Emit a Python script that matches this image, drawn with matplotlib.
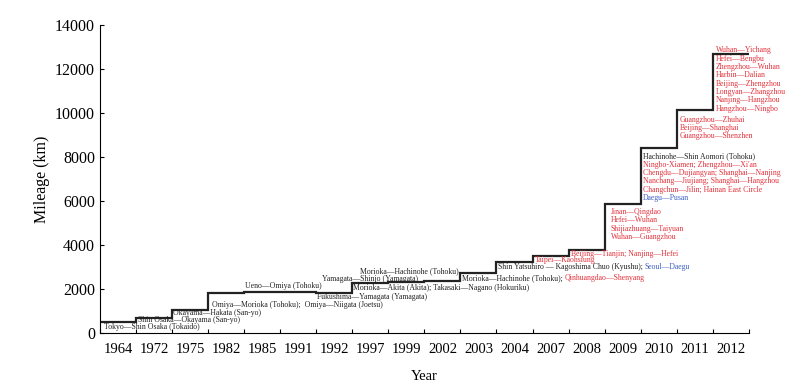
import matplotlib
matplotlib.use("Agg")
import matplotlib.pyplot as plt
import numpy as np

plt.rcParams['font.family'] = ['Liberation Serif', 'DejaVu Serif']

# opening years (one bin each) and cumulative mileage in km
years = ["1964", "1972", "1975", "1982", "1985", "1991", "1992", "1997", "1999",
         "2002", "2003", "2004", "2007", "2008", "2009", "2010", "2011", "2012"]
mileage = [515, 676, 1069, 1830, 1860, 1870, 1810, 2270, 2320,
           2380, 2730, 3230, 3500, 3800, 5880, 8420, 10130, 12700]

RED = "#e2313b"
BLUE = "#3b5fc4"
BLACK = "#222222"

# single-colour labels: (text, colour, x in bins, y in km)
labels = [
    ("Tokyo—Shin Osaka (Tokaido)", BLACK, 0.11, 270),
    ("Shin Osaka—Okayama (San-yo)", BLACK, 1.05, 590),
    ("Okayama—Hakata (San-yo)", BLACK, 2.02, 910),
    ("Omiya—Morioka (Tohoku);  Omiya—Niigata (Joetsu)", BLACK, 3.1, 1290),
    ("Ueno—Omiya (Tohoku)", BLACK, 4.02, 2140),
    ("Fukushima—Yamagata (Yamagata)", BLACK, 6.02, 1660),
    ("Yamagata—Shinjo (Yamagata)", BLACK, 6.16, 2470),
    ("Morioka—Hachinohe (Tohoku)", BLACK, 7.2, 2830),
    ("Morioka—Akita (Akita); Takasaki—Nagano (Hokuriku)", BLACK, 7.02, 2060),
    ("Taipei—Kaohsiung", RED, 12.06, 3310),
    ("Beijing—Tianjin; Nanjing—Hefei", RED, 13.06, 3590),
]

# two-colour labels: (first, colour, second, colour, x, y)
pair_labels = [
    ("Morioka—Hachinohe (Tohoku); ", BLACK, "Qinhuangdao—Shenyang", RED, 10.04, 2500),
    ("Shin Yatsuhiro — Kagoshima Chuo (Kyushu); ", BLACK, "Seoul—Daegu", BLUE, 11.04, 3000),
]

# stacked lists: (lines, colours, x, y of first line)
block_2009 = ["Jinan—Qingdao", "Hefei—Wuhan", "Shijiazhuang—Taiyuan", "Wuhan—Guangzhou"]
block_2010 = ["Hachinohe—Shin Aomori (Tohoku)", "Ningbo-Xiamen; Zhengzhou—Xi'an",
              "Chengdu—Dujiangyan; Shanghai—Nanjing", "Nanchang—Jiujiang; Shanghai—Hangzhou",
              "Changchun—Jilin; Hainan East Circle", "Daegu—Pusan"]
colors_2010 = [BLACK, RED, RED, RED, RED, BLUE]
block_2011 = ["Guangzhou—Zhuhai", "Beijing—Shanghai", "Guangzhou—Shenzhen"]
block_2012 = ["Wuhan—Yichang", "Hefei—Bengbu", "Zhengzhou—Wuhan", "Harbin—Dalian",
              "Beijing—Zhengzhou", "Longyan—Zhangzhou", "Nanjing—Hangzhou", "Hangzhou—Ningbo"]
blocks = [
    (block_2009, [RED] * len(block_2009), 14.17, 5500),
    (block_2010, colors_2010, 15.06, 8040),
    (block_2011, [RED] * len(block_2011), 16.08, 9700),
    (block_2012, [RED] * len(block_2012), 17.08, 12860),
]

fs = 5.6
fig = plt.figure(figsize=(8, 3.86), dpi=100)
ax = fig.add_axes([0.125, 0.137, 0.811, 0.798])

edges = np.arange(len(years) + 1)
ax.stairs(mileage, edges, baseline=None, color=BLACK, lw=1.6)

for txt, c, x, y in labels:
    ax.text(x, y, txt, color=c, fontsize=fs, ha='left', va='center')

for t1, c1, t2, c2, x, y in pair_labels:
    a = ax.text(x, y, t1, color=c1, fontsize=fs, ha='left', va='center')
    ax.annotate(t2, xy=(1, 0), xycoords=a, color=c2, fontsize=fs,
                ha='left', va='bottom')

for lines, cols, x, y in blocks:
    for i, (ln, c) in enumerate(zip(lines, cols)):
        ax.annotate(ln, xy=(x, y), xytext=(0, -6.0 * i), textcoords='offset points',
                    color=c, fontsize=fs, ha='left', va='center')

ax.set_xlim(0, len(years))
ax.set_ylim(0, 14000)
ax.set_yticks(np.arange(0, 14001, 2000))
ax.set_xticks(edges)
ax.set_xticklabels([])
ax.set_xticks(edges[:-1] + 0.5, minor=True)
ax.set_xticklabels(years, minor=True)
ax.tick_params(axis='x', which='minor', length=0, labelsize=10.5, pad=7)
ax.tick_params(axis='x', which='major', direction='in', length=3)
ax.tick_params(axis='y', direction='in', length=3, labelsize=11.5)

for s in ['top', 'right']:
    ax.spines[s].set_visible(False)

ax.set_ylabel("Mileage (km)", fontsize=11.5)
ax.set_xlabel("Year", fontsize=10.5, labelpad=10)

plt.savefig("out.png", dpi=100)
